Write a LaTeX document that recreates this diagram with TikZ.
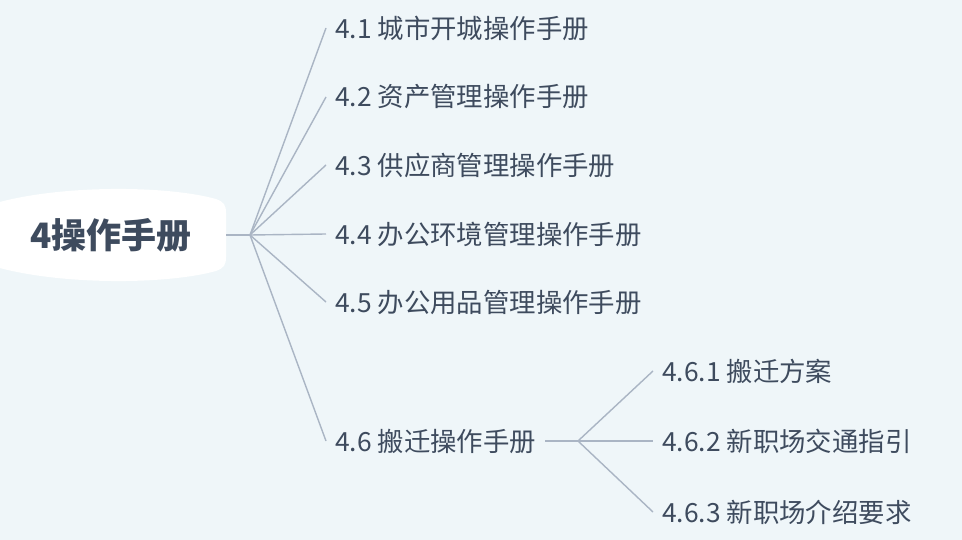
\documentclass[tikz,border=0pt]{standalone}
\usepackage{fontspec}
\setmainfont{Noto Sans CJK SC}
\definecolor{bgblue}{RGB}{239,246,249}
\definecolor{inkslate}{RGB}{62,75,94}
\definecolor{branchgray}{RGB}{170,181,196}
\begin{document}
\begin{tikzpicture}[x=1pt,y=-1pt,
    topic/.style={anchor=west,inner xsep=9pt,inner ysep=0pt,text=inkslate,font=\fontsize{26.4}{30}\selectfont},
    branch/.style={draw=branchgray,line width=1.4pt}]
    \fill[bgblue] (0,0) rectangle (962,540);
    \useasboundingbox (0,0) rectangle (962,540);
    % root blob
    \fill[white] (-4,203) .. controls (60,185) and (165,185) .. (216,199)
        .. controls (224,202) and (226,205) .. (226,213) -- (226,257)
        .. controls (226,265) and (224,268) .. (216,271)
        .. controls (165,285) and (60,285) .. (-4,267) -- cycle;
    \node[text=inkslate,font=\fontsize{35}{40}\selectfont\bfseries] (root) at (111,235) {4操作手册};
    \coordinate (hub) at (250,235);
    \draw[branch] (226,235) -- (hub);
    % first level
    \node[topic] (t1) at (326,28) {4.1 城市开城操作手册};
    \node[topic] (t2) at (326,97) {4.2 资产管理操作手册};
    \node[topic] (t3) at (326,165) {4.3 供应商管理操作手册};
    \node[topic] (t4) at (326,234) {4.4 办公环境管理操作手册};
    \node[topic] (t5) at (326,302) {4.5 办公用品管理操作手册};
    \node[topic] (t6) at (326,441) {4.6 搬迁操作手册};
    \foreach \t in {t1,t2,t3,t4,t5,t6}
        \draw[branch] (hub) -- (\t.west);
    % second level
    \coordinate (hub6) at (578,441);
    \draw[branch] (t6.east) -- (hub6);
    \node[topic] (s1) at (653,371) {4.6.1 搬迁方案};
    \node[topic] (s2) at (653,441) {4.6.2 新职场交通指引};
    \node[topic] (s3) at (653,512) {4.6.3 新职场介绍要求};
    \foreach \s in {s1,s2,s3}
        \draw[branch] (hub6) -- (\s.west);
\end{tikzpicture}
\end{document}
